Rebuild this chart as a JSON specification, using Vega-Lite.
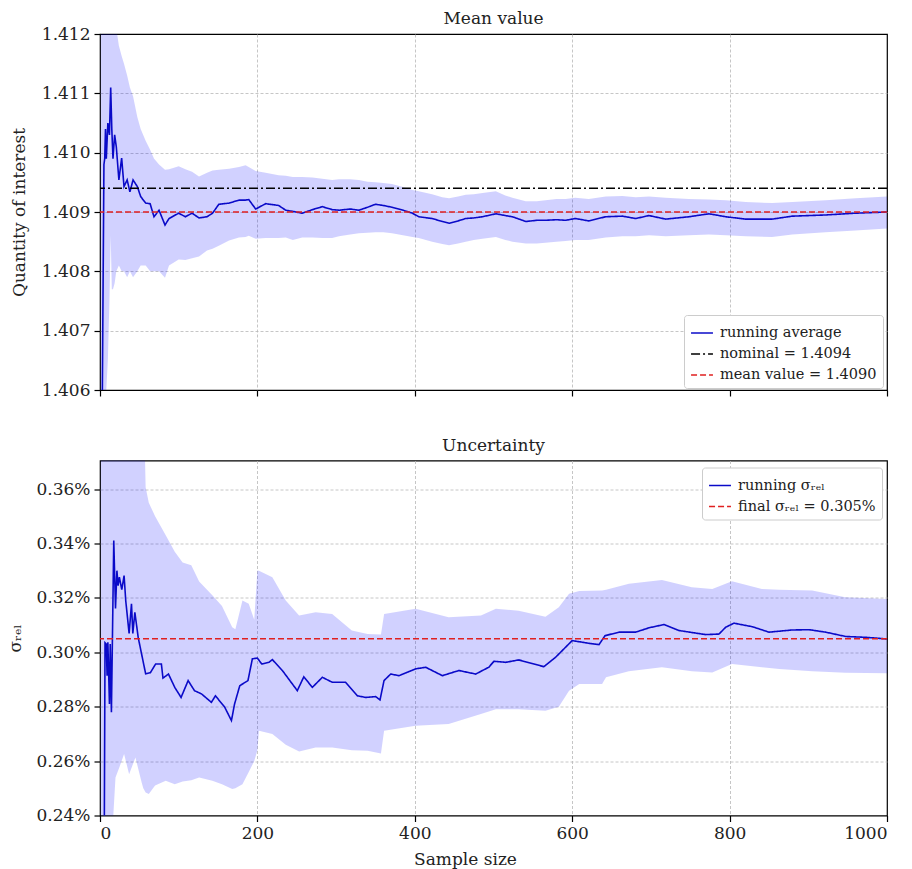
{
  "$schema": "https://vega.github.io/schema/vega-lite/v6.json",
  "padding": {"left": 5, "top": 8, "right": 5, "bottom": 2},
  "background": "white",
  "config": {
    "font": "DejaVu Serif",
    "view": {"stroke": "black", "strokeWidth": 1.2},
    "axis": {"labelFont": "DejaVu Serif", "labelFontSize": 17, "labelColor": "#222", "titleFont": "DejaVu Serif", "titleFontSize": 17, "titleFontWeight": "normal", "titleColor": "#222", "tickColor": "black", "tickSize": 6, "tickWidth": 1.2, "domain": false, "grid": true, "gridColor": "#b8b8b8", "gridDash": [3, 2], "gridWidth": 0.8, "labelPadding": 4},
    "title": {"font": "DejaVu Serif", "fontSize": 17, "fontWeight": "normal", "color": "#222", "offset": -2.5, "frame": "group", "baseline": "alphabetic"},
    "legend": {"symbolType": "stroke", "symbolSize": 480, "symbolStrokeWidth": 1.6, "labelFont": "DejaVu Serif", "labelFontSize": 14.5, "labelColor": "#222", "fillColor": "white", "strokeColor": "#cccccc", "padding": 6, "cornerRadius": 3, "rowPadding": 2, "labelOffset": 6, "title": null}
  },
  "datasets": {
    "meanData": [
      {"n":1,"m":1.4030,"lo":1.3990,"hi":1.4200},
      {"n":3,"m":1.4060,"lo":1.4000,"hi":1.4180},
      {"n":5,"m":1.4098,"lo":1.4040,"hi":1.4160},
      {"n":6,"m":1.4099,"lo":1.4050,"hi":1.4150},
      {"n":7,"m":1.4104,"lo":1.4055,"hi":1.4150},
      {"n":8,"m":1.4099,"lo":1.4060,"hi":1.4150},
      {"n":10,"m":1.4105,"lo":1.4065,"hi":1.4150},
      {"n":12,"m":1.4103,"lo":1.4075,"hi":1.4140},
      {"n":13.6,"m":1.4111,"lo":1.4086,"hi":1.4135},
      {"n":15,"m":1.4104,"lo":1.4077,"hi":1.4132},
      {"n":16.5,"m":1.4099,"lo":1.4077,"hi":1.4130},
      {"n":18.6,"m":1.4103,"lo":1.4078,"hi":1.4125},
      {"n":20.7,"m":1.4101,"lo":1.4080,"hi":1.4121},
      {"n":24,"m":1.40954,"lo":1.4081,"hi":1.4118},
      {"n":27.5,"m":1.40991,"lo":1.4080,"hi":1.41163},
      {"n":30.5,"m":1.40943,"lo":1.4080,"hi":1.4115},
      {"n":34.5,"m":1.40954,"lo":1.4079,"hi":1.4113},
      {"n":38,"m":1.40934,"lo":1.4080,"hi":1.4111},
      {"n":42,"m":1.40954,"lo":1.4079,"hi":1.41095},
      {"n":47.4,"m":1.40943,"lo":1.4080,"hi":1.4106},
      {"n":51.7,"m":1.40926,"lo":1.4081,"hi":1.4104},
      {"n":58,"m":1.40915,"lo":1.4081,"hi":1.4102},
      {"n":63.7,"m":1.40914,"lo":1.4080,"hi":1.41005},
      {"n":68.6,"m":1.40892,"lo":1.4080,"hi":1.4099},
      {"n":75,"m":1.40903,"lo":1.4080,"hi":1.4098},
      {"n":82.6,"m":1.40878,"lo":1.40789,"hi":1.40971},
      {"n":87.7,"m":1.40889,"lo":1.4081,"hi":1.40972},
      {"n":100,"m":1.40898,"lo":1.4082,"hi":1.40977},
      {"n":108.5,"m":1.40892,"lo":1.40819,"hi":1.40972},
      {"n":117,"m":1.40898,"lo":1.40822,"hi":1.40968},
      {"n":125.8,"m":1.4089,"lo":1.40825,"hi":1.4096},
      {"n":136,"m":1.40892,"lo":1.40835,"hi":1.40966},
      {"n":143,"m":1.40898,"lo":1.40838,"hi":1.4097},
      {"n":151,"m":1.40913,"lo":1.40843,"hi":1.40971},
      {"n":164,"m":1.40915,"lo":1.40852,"hi":1.40973},
      {"n":176.6,"m":1.4092,"lo":1.40857,"hi":1.40976},
      {"n":185,"m":1.4092,"lo":1.40858,"hi":1.40979},
      {"n":189,"m":1.40921,"lo":1.4086,"hi":1.40976},
      {"n":197.8,"m":1.40905,"lo":1.40855,"hi":1.40969},
      {"n":210.5,"m":1.40914,"lo":1.40856,"hi":1.40966},
      {"n":227,"m":1.40911,"lo":1.40856,"hi":1.40962},
      {"n":236,"m":1.40903,"lo":1.40857,"hi":1.40961},
      {"n":245,"m":1.40901,"lo":1.40853,"hi":1.40959},
      {"n":257,"m":1.40898,"lo":1.40857,"hi":1.40959},
      {"n":270,"m":1.40904,"lo":1.40857,"hi":1.40958},
      {"n":282.5,"m":1.40909,"lo":1.40856,"hi":1.40956},
      {"n":295,"m":1.40904,"lo":1.40856,"hi":1.40954},
      {"n":303.7,"m":1.40903,"lo":1.40859,"hi":1.40955},
      {"n":318,"m":1.40905,"lo":1.40862,"hi":1.40955},
      {"n":329,"m":1.40903,"lo":1.40864,"hi":1.40954},
      {"n":340,"m":1.40908,"lo":1.40865,"hi":1.40951},
      {"n":350,"m":1.40913,"lo":1.40866,"hi":1.4095},
      {"n":360,"m":1.40911,"lo":1.40866,"hi":1.40949},
      {"n":371,"m":1.40908,"lo":1.40864,"hi":1.40947},
      {"n":385,"m":1.40903,"lo":1.40861,"hi":1.40942},
      {"n":397,"m":1.40898,"lo":1.40858,"hi":1.40937},
      {"n":405,"m":1.40892,"lo":1.40856,"hi":1.40935},
      {"n":422,"m":1.40889,"lo":1.4085,"hi":1.4093},
      {"n":435,"m":1.40884,"lo":1.40846,"hi":1.40925},
      {"n":443.5,"m":1.40881,"lo":1.40844,"hi":1.40923},
      {"n":455,"m":1.40885,"lo":1.40847,"hi":1.40926},
      {"n":464.7,"m":1.40889,"lo":1.4085,"hi":1.40929},
      {"n":475,"m":1.4089,"lo":1.40853,"hi":1.4093},
      {"n":486,"m":1.40892,"lo":1.40855,"hi":1.40932},
      {"n":503,"m":1.40897,"lo":1.40858,"hi":1.40935},
      {"n":515,"m":1.40894,"lo":1.40853,"hi":1.40928},
      {"n":524,"m":1.40892,"lo":1.4085,"hi":1.40924},
      {"n":541,"m":1.40884,"lo":1.40847,"hi":1.40918},
      {"n":555,"m":1.40886,"lo":1.40847,"hi":1.40918},
      {"n":566,"m":1.40886,"lo":1.40848,"hi":1.4092},
      {"n":580,"m":1.40887,"lo":1.4085,"hi":1.40922},
      {"n":591.6,"m":1.40886,"lo":1.40851,"hi":1.40922},
      {"n":604,"m":1.40889,"lo":1.40853,"hi":1.40924},
      {"n":621,"m":1.40885,"lo":1.40853,"hi":1.40922},
      {"n":642.6,"m":1.40892,"lo":1.40857,"hi":1.40926},
      {"n":663.8,"m":1.40893,"lo":1.40859,"hi":1.40927},
      {"n":680.7,"m":1.40889,"lo":1.40859,"hi":1.40925},
      {"n":697.6,"m":1.40894,"lo":1.40861,"hi":1.40926},
      {"n":718.8,"m":1.40888,"lo":1.40859,"hi":1.40924},
      {"n":748.4,"m":1.40892,"lo":1.40861,"hi":1.40922},
      {"n":773.8,"m":1.40897,"lo":1.40862,"hi":1.40921},
      {"n":795,"m":1.40892,"lo":1.40861,"hi":1.4092},
      {"n":820.5,"m":1.40888,"lo":1.40859,"hi":1.40917},
      {"n":854,"m":1.40888,"lo":1.40858,"hi":1.40915},
      {"n":879.7,"m":1.40893,"lo":1.40862,"hi":1.40917},
      {"n":922,"m":1.40895,"lo":1.40866,"hi":1.4092},
      {"n":960,"m":1.40898,"lo":1.40869,"hi":1.40923},
      {"n":1000,"m":1.409,"lo":1.40872,"hi":1.40926}
    ],
    "refMean": [
      {"series": "nominal = 1.4094", "value": 1.4094},
      {"series": "mean value = 1.4090", "value": 1.409}
    ],
    "sigmaLine": [
      {"n":1,"s":0.15},{"n":5,"s":0.2},{"n":6.4,"s":0.3035},{"n":8,"s":0.303},{"n":9,"s":0.2914},
      {"n":10,"s":0.3037},{"n":12,"s":0.281},{"n":13,"s":0.303},{"n":14.5,"s":0.278},{"n":17.5,"s":0.3411},
      {"n":19.7,"s":0.3161},{"n":21.5,"s":0.33},{"n":23,"s":0.3245},{"n":24.6,"s":0.3276},{"n":27.7,"s":0.323},
      {"n":30.6,"s":0.3282},{"n":32.7,"s":0.319},{"n":37,"s":0.3069},{"n":40,"s":0.3178},{"n":41.7,"s":0.3069},
      {"n":44.3,"s":0.3147},{"n":48.5,"s":0.3055},{"n":58,"s":0.2921},{"n":64,"s":0.2925},{"n":70.7,"s":0.2957},
      {"n":78,"s":0.2957},{"n":80,"s":0.2905},{"n":87,"s":0.292},{"n":95,"s":0.2871},{"n":103,"s":0.2834},
      {"n":112,"s":0.2896},{"n":120,"s":0.2859},{"n":129,"s":0.2847},{"n":141.5,"s":0.2816},{"n":146.7,"s":0.284},
      {"n":158.5,"s":0.2798},{"n":167,"s":0.2749},{"n":171,"s":0.281},{"n":177.6,"s":0.2877},{"n":188,"s":0.2896},
      {"n":193.6,"s":0.2976},{"n":199.9,"s":0.2979},{"n":205.5,"s":0.2957},{"n":214.7,"s":0.2963},{"n":219,"s":0.2973},
      {"n":231.7,"s":0.2933},{"n":250.7,"s":0.2859},{"n":259,"s":0.291},{"n":269.8,"s":0.2871},{"n":282.5,"s":0.2908},
      {"n":295,"s":0.289},{"n":312,"s":0.289},{"n":327,"s":0.284},{"n":337.6,"s":0.2834},{"n":350.3,"s":0.2837},
      {"n":355.8,"s":0.2825},{"n":360.9,"s":0.2896},{"n":369.4,"s":0.292},{"n":380,"s":0.2914},{"n":401,"s":0.2939},
      {"n":413.8,"s":0.2945},{"n":435,"s":0.2914},{"n":456,"s":0.2933},{"n":477.4,"s":0.292},{"n":494,"s":0.2945},
      {"n":500.6,"s":0.2967},{"n":515.5,"s":0.2963},{"n":532,"s":0.2972},{"n":564,"s":0.2947},{"n":579,"s":0.2982},
      {"n":600,"s":0.3043},{"n":621,"s":0.3033},{"n":634,"s":0.3028},{"n":641.7,"s":0.3061},{"n":659.5,"s":0.3074},
      {"n":680.7,"s":0.3074},{"n":697.6,"s":0.309},{"n":716.6,"s":0.3102},{"n":735.7,"s":0.308},{"n":769.6,"s":0.3065},
      {"n":786.5,"s":0.3067},{"n":795,"s":0.3092},{"n":805.6,"s":0.3107},{"n":828.9,"s":0.3094},{"n":850,"s":0.3074},
      {"n":879.7,"s":0.3082},{"n":901,"s":0.3083},{"n":922,"s":0.3074},{"n":947.6,"s":0.3058},{"n":973,"s":0.3055},
      {"n":1000,"s":0.3049}
    ],
    "sigmaBand": [
      {"n":1,"lo":0.15,"hi":0.5},{"n":16,"lo":0.2,"hi":0.5},{"n":17,"lo":0.2405,"hi":0.5},{"n":19.7,"lo":0.254,"hi":0.5},
      {"n":25,"lo":0.258,"hi":0.5},{"n":30.6,"lo":0.2626,"hi":0.5},{"n":37,"lo":0.2552,"hi":0.5},{"n":45,"lo":0.2613,"hi":0.5},
      {"n":53,"lo":0.252,"hi":0.5},{"n":55,"lo":0.25,"hi":0.4},{"n":58,"lo":0.2485,"hi":0.3607},{"n":62,"lo":0.2479,"hi":0.355},
      {"n":70,"lo":0.251,"hi":0.35},{"n":83.5,"lo":0.2528,"hi":0.343},{"n":95,"lo":0.2515,"hi":0.337},{"n":105,"lo":0.2525,"hi":0.333},
      {"n":116,"lo":0.253,"hi":0.332},{"n":126,"lo":0.254,"hi":0.326},{"n":142.7,"lo":0.2528,"hi":0.321},{"n":155,"lo":0.2515,"hi":0.317},
      {"n":168,"lo":0.2497,"hi":0.3092},{"n":172,"lo":0.25,"hi":0.3085},{"n":181,"lo":0.2515,"hi":0.319},{"n":189,"lo":0.256,"hi":0.3178},
      {"n":196,"lo":0.26,"hi":0.312},{"n":200,"lo":0.264,"hi":0.3301},{"n":202,"lo":0.2712,"hi":0.33},{"n":219,"lo":0.27,"hi":0.3276},
      {"n":236,"lo":0.266,"hi":0.319},{"n":253,"lo":0.2635,"hi":0.3135},{"n":274,"lo":0.265,"hi":0.3147},{"n":295,"lo":0.265,"hi":0.3141},
      {"n":320,"lo":0.264,"hi":0.308},{"n":340,"lo":0.2638,"hi":0.3067},{"n":357,"lo":0.2628,"hi":0.3065},{"n":361,"lo":0.2712,"hi":0.3141},
      {"n":401,"lo":0.273,"hi":0.316},{"n":443,"lo":0.2736,"hi":0.3129},{"n":484,"lo":0.2773,"hi":0.3135},{"n":503,"lo":0.2791,"hi":0.316},
      {"n":532,"lo":0.2791,"hi":0.3153},{"n":566,"lo":0.2785,"hi":0.3131},{"n":583,"lo":0.28,"hi":0.3166},{"n":596,"lo":0.2859,"hi":0.3215},
      {"n":609,"lo":0.2883,"hi":0.3225},{"n":638,"lo":0.2883,"hi":0.3227},{"n":643,"lo":0.2908,"hi":0.323},{"n":672,"lo":0.293,"hi":0.3252},
      {"n":714,"lo":0.2945,"hi":0.3266},{"n":752,"lo":0.293,"hi":0.3239},{"n":778,"lo":0.2926,"hi":0.3233},{"n":803,"lo":0.2957,"hi":0.3261},
      {"n":841,"lo":0.2945,"hi":0.3233},{"n":863,"lo":0.2939,"hi":0.323},{"n":905,"lo":0.293,"hi":0.3227},{"n":947,"lo":0.2925,"hi":0.3202},
      {"n":1000,"lo":0.2923,"hi":0.3196}
    ],
    "refSigma": [
      {"series": "final σᵣₑₗ = 0.305%", "value": 0.305}
    ]
  },
  "spacing": 36.5,
  "resolve": {"scale": {"color": "independent", "strokeDash": "independent"}, "legend": {"color": "independent", "strokeDash": "independent"}},
  "vconcat": [
    {
      "width": 787,
      "height": 356,
      "title": {"text": "Mean value", "offset": -2.5},
      "layer": [
        {
          "data": {"name": "meanData"},
          "mark": {"type": "area", "color": "#0000ff", "opacity": 0.18, "clip": true},
          "encoding": {
            "x": {"field": "n", "type": "quantitative", "scale": {"domain": [0, 1000], "nice": false}, "axis": {"values": [0, 200, 400, 600, 800, 1000], "labels": false, "title": null, "gridOpacity": {"condition": {"test": "datum.value <= 0 || datum.value >= 1000", "value": 0}, "value": 1}}},
            "y": {"field": "lo", "type": "quantitative", "scale": {"domain": [1.406, 1.412], "nice": false, "zero": false}, "axis": {"values": [1.406, 1.407, 1.408, 1.409, 1.41, 1.411, 1.412], "format": ".3f", "title": "Quantity of interest", "minExtent": 60, "maxExtent": 60, "titlePadding": 12, "gridOpacity": {"condition": {"test": "datum.value <= 1.4060001 || datum.value >= 1.4119999", "value": 0}, "value": 1}}},
            "y2": {"field": "hi"}
          }
        },
        {
          "data": {"name": "meanData"},
          "mark": {"type": "line", "strokeWidth": 1.6, "clip": true},
          "encoding": {
            "x": {"field": "n", "type": "quantitative"},
            "y": {"field": "m", "type": "quantitative"},
            "color": {"datum": "running average", "scale": {"domain": ["running average", "nominal = 1.4094", "mean value = 1.4090"], "range": ["#0a0ac8", "#000000", "#e02020"]}, "legend": {"orient": "none", "legendX": 584, "legendY": 281}},
            "strokeDash": {"datum": "running average", "scale": {"domain": ["running average", "nominal = 1.4094", "mean value = 1.4090"], "range": [[1, 0], [9, 3, 2, 3], [6, 3]]}, "legend": {"orient": "none", "legendX": 584, "legendY": 281}}
          }
        },
        {
          "data": {"name": "refMean"},
          "mark": {"type": "rule", "strokeWidth": 1.6},
          "encoding": {
            "y": {"field": "value", "type": "quantitative"},
            "color": {"field": "series", "type": "nominal"},
            "strokeDash": {"field": "series", "type": "nominal"}
          }
        }
      ]
    },
    {
      "width": 787,
      "height": 355,
      "title": {"text": "Uncertainty", "offset": 5.5},
      "layer": [
        {
          "data": {"name": "sigmaBand"},
          "mark": {"type": "area", "color": "#0000ff", "opacity": 0.18, "clip": true},
          "encoding": {
            "x": {"field": "n", "type": "quantitative", "scale": {"domain": [0, 1000], "nice": false}, "axis": {"values": [0, 200, 400, 600, 800, 1000], "format": "d", "title": "Sample size", "titleX": 365, "titleY": 49, "titleBaseline": "alphabetic", "gridOpacity": {"condition": {"test": "datum.value <= 0 || datum.value >= 1000", "value": 0}, "value": 1}}},
            "y": {"field": "lo", "type": "quantitative", "scale": {"domain": [0.24, 0.3705], "nice": false, "zero": false}, "axis": {"values": [0.24, 0.26, 0.28, 0.3, 0.32, 0.34, 0.36], "labelExpr": "format(datum.value, '.2f') + '%'", "title": "σᵣₑₗ", "minExtent": 64, "maxExtent": 64, "titlePadding": 12, "gridOpacity": {"condition": {"test": "datum.value <= 0.2400001", "value": 0}, "value": 1}}},
            "y2": {"field": "hi"}
          }
        },
        {
          "data": {"name": "sigmaLine"},
          "mark": {"type": "line", "strokeWidth": 1.6, "clip": true},
          "encoding": {
            "x": {"field": "n", "type": "quantitative"},
            "y": {"field": "s", "type": "quantitative"},
            "color": {"datum": "running σᵣₑₗ", "scale": {"domain": ["running σᵣₑₗ", "final σᵣₑₗ = 0.305%"], "range": ["#0a0ac8", "#e02020"]}, "legend": {"orient": "none", "legendX": 602, "legendY": 7}},
            "strokeDash": {"datum": "running σᵣₑₗ", "scale": {"domain": ["running σᵣₑₗ", "final σᵣₑₗ = 0.305%"], "range": [[1, 0], [6, 3]]}, "legend": {"orient": "none", "legendX": 602, "legendY": 7}}
          }
        },
        {
          "data": {"name": "refSigma"},
          "mark": {"type": "rule", "strokeWidth": 1.6},
          "encoding": {
            "y": {"field": "value", "type": "quantitative"},
            "color": {"field": "series", "type": "nominal"},
            "strokeDash": {"field": "series", "type": "nominal"}
          }
        }
      ]
    }
  ]
}
